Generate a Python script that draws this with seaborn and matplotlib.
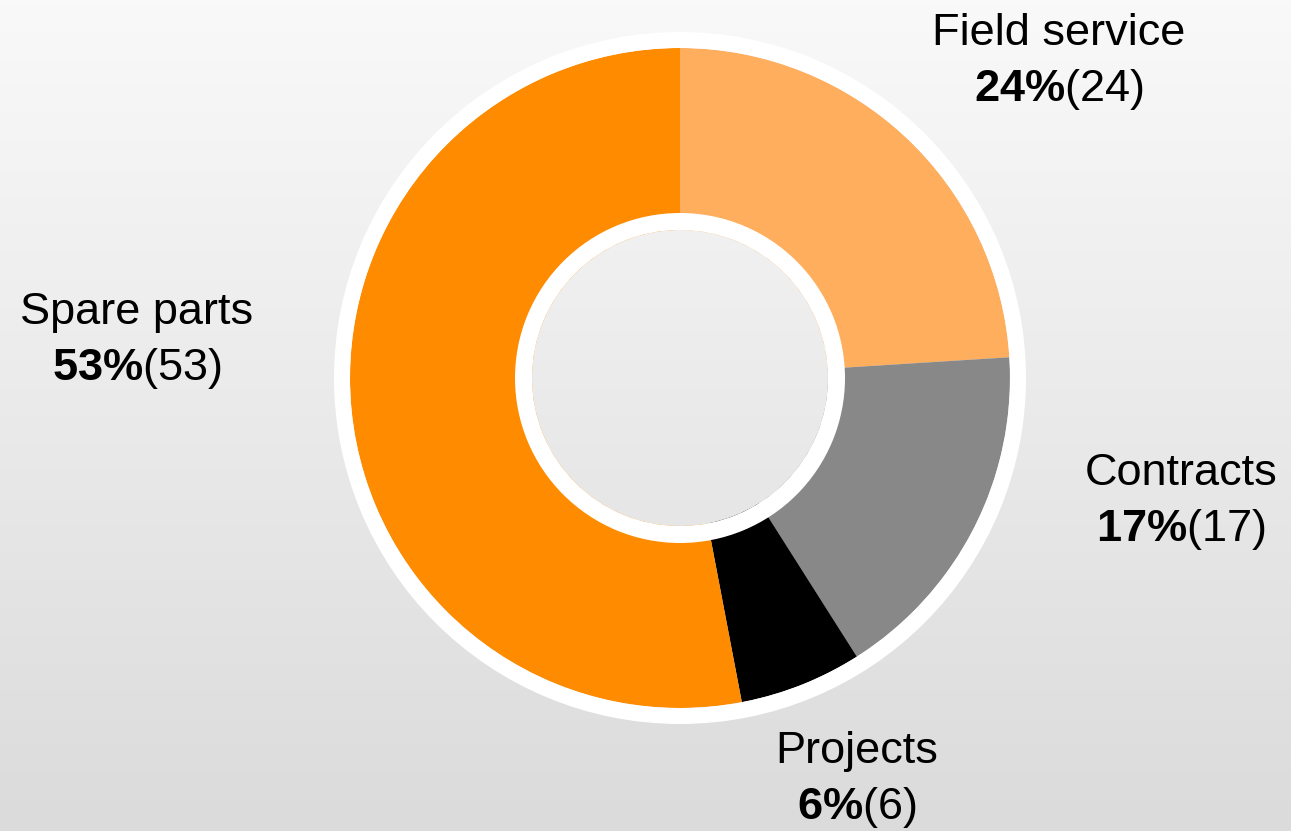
import numpy as np
import matplotlib
matplotlib.use("Agg")
import matplotlib.pyplot as plt
from matplotlib.patches import Wedge
from matplotlib.colors import LinearSegmentedColormap
import seaborn as sns

# Revenue split by business line
categories = ["Field service", "Contracts", "Projects", "Spare parts"]
counts = [24, 17, 6, 53]
slice_colors = ["#FFAE5E", "#888888", "#000000", "#FF8B00"]

sns.set_theme(style="white")
plt.rcParams["font.family"] = ["Liberation Sans", "DejaVu Sans"]
plt.rcParams["mathtext.fontset"] = "custom"
plt.rcParams["mathtext.rm"] = "Liberation Sans"
plt.rcParams["mathtext.bf"] = "Liberation Sans:bold"

W, H = 1291, 831
FS = 32.5
fig = plt.figure(figsize=(W / 100, H / 100), dpi=100)
ax = fig.add_axes([0, 0, 1, 1])

# soft vertical gradient backdrop
grad = np.linspace(0, 1, 256).reshape(-1, 1)
bg_cmap = LinearSegmentedColormap.from_list("bg", ["#F9F9F9", "#DBDBDB"])
ax.imshow(grad, extent=(0, W, 0, H), origin="upper", cmap=bg_cmap,
          aspect="auto", zorder=0, interpolation="bicubic")

cx, cy = 680, H - 378
r_out, r_hole = 330, 148
palette = sns.color_palette(slice_colors)

wedges, _ = ax.pie(counts, colors=palette, startangle=90, counterclock=False,
                   center=(cx, cy), radius=r_out,
                   wedgeprops=dict(width=r_out - r_hole, linewidth=0,
                                   antialiased=True, zorder=2))

# white rims around the ring and around the hole
ax.add_patch(Wedge((cx, cy), 346, 0, 360, width=16, facecolor="white",
                   edgecolor="none", zorder=3))
ax.add_patch(Wedge((cx, cy), 165, 0, 360, width=17, facecolor="white",
                   edgecolor="none", zorder=3))

# label anchors: centre x and first-line baseline, pixels from the top
label_pos = [(1059, 45), (1181, 485), (857, 763), (137, 324)]
line_gap = 56
total = sum(counts)
for name, c, (lx, ly) in zip(categories, counts, label_pos):
    pct = round(100 * c / total)
    ax.text(lx, H - ly, name, ha="center", va="baseline", fontsize=FS,
            color="black", zorder=5)
    ax.text(lx, H - ly - line_gap, rf"$\mathbf{{{pct}\%}}$({c})",
            ha="center", va="baseline", fontsize=FS, color="black", zorder=5)

ax.set_xlim(0, W)
ax.set_ylim(0, H)
ax.axis("off")
fig.savefig("out.png", dpi=100)
